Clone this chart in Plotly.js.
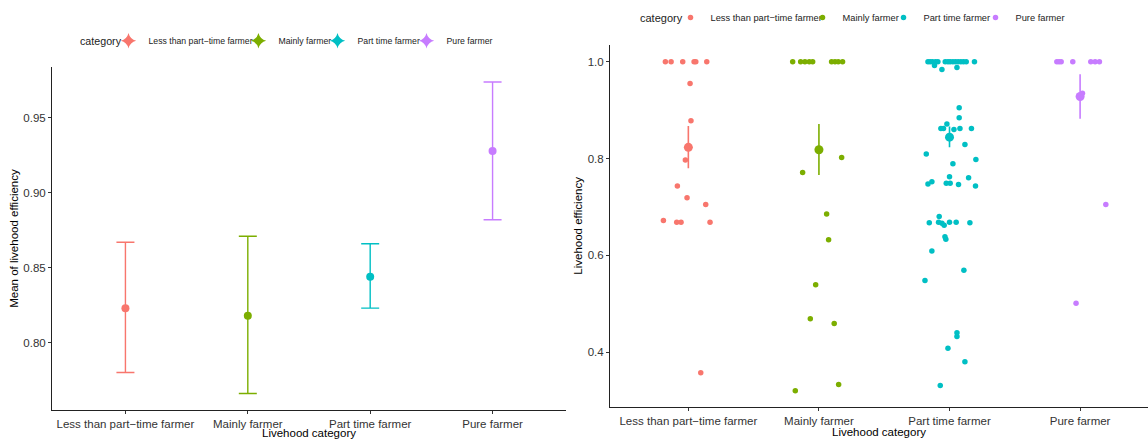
<!DOCTYPE html>
<html>
<head>
<meta charset="utf-8">
<script src="https://cdn.plot.ly/plotly-3.0.1.min.js"></script>
<style>html,body{margin:0;padding:0;background:#fff;overflow:hidden;}#chart{width:1148px;height:439px;}</style>
</head>
<body>
<div id="chart"></div>
<script>
// ---- data ----
const categories = ["Less than part\u2212time farmer", "Mainly farmer", "Part time farmer", "Pure farmer"];
const legendTitle = "category";
const meanVals  = [0.823, 0.818, 0.844, 0.928];
const lowerVals = [0.780, 0.766, 0.823, 0.882];
const upperVals = [0.867, 0.871, 0.866, 0.974];

const lessVals = [1,1,1,1,1,1,0.955,0.878,0.797,0.743,0.719,0.705,0.672,0.668,0.668,0.668,0.357];
const lessJit  = [-0.176,-0.132,-0.043,0.044,0.057,0.141,0.013,0.02,-0.023,-0.084,-0.01,0.133,-0.191,-0.089,-0.056,0.166,0.095];

const mainlyVals = [1,1,1,1,1,1,1,1,1,0.802,0.771,0.685,0.632,0.539,0.469,0.459,0.333,0.320];
const mainlyJit  = [-0.201,-0.140,-0.107,-0.074,-0.048,0.097,0.123,0.148,0.181,0.174,-0.125,0.059,0.074,-0.025,-0.066,0.117,0.151,-0.181];

const partVals = [1,1,1,1,1,1,1,1,1,1,1,1,1,1,1,0.992,0.984,0.988,
  0.905,0.884,0.871,0.862,0.862,0.860,0.862,0.862,
  0.829,0.809,0.798,0.789,0.762,0.760,
  0.747,0.752,0.749,0.749,0.746,0.743,
  0.680,0.667,0.668,0.666,0.662,0.668,0.668,0.667,
  0.638,0.633,0.609,0.569,0.548,
  0.440,0.432,0.408,0.380,0.331];
const partJit = [-0.165,-0.148,-0.130,-0.107,-0.089,-0.033,-0.012,0.005,0.026,0.046,0.066,0.087,0.107,0.128,0.191,-0.115,-0.058,0.057,
  0.074,0.074,-0.02,-0.066,-0.046,0.034,0.08,0.168,
  0.118,-0.178,0.202,0.026,0,0.146,
  -0.165,-0.135,-0.025,0.005,0.069,0.199,
  -0.079,-0.155,-0.084,-0.058,-0.041,0,0.051,0.156,
  -0.035,-0.028,-0.135,0.11,-0.188,
  0.057,0.057,-0.012,0.118,-0.071];

const pureVals = [1,1,1,1,1,1,1,0.935,0.705,0.501];
const pureJit  = [-0.178,-0.161,-0.145,-0.056,0.082,0.115,0.148,0.018,0.197,-0.031];

const leftTickVals = [0.80, 0.85, 0.90, 0.95];
const rightTickVals = [0.4, 0.6, 0.8, 1.0];

// ---- styling ----
const W = 1148, H = 439;
const colors = ["#F8766D", "#7CAE00", "#00BFC4", "#C77CFF"];
const pointVals = [lessVals, mainlyVals, partVals, pureVals];
const pointJit = [lessJit, mainlyJit, partJit, pureJit];
const catIdx = [0, 1, 2, 3];
const FONT = "Liberation Sans, Arial, sans-serif";
// legend layout (pixel position of each entry's text start)
const leftLegendNames = ["legend", "legend3", "legend4", "legend5"];
const rightLegendNames = ["legend2", "legend6", "legend7", "legend8"];
const leftLegendTextX = [145, 275, 354, 443];
const rightLegendTextX = [707, 839, 920, 1012];
const leftLegendY = 40.7, rightLegendY = 17.5;

const traces = [];
// left panel: mean with error bars
catIdx.forEach(i => {
  traces.push({
    type: "scatter", mode: "markers",
    x: [i], y: [meanVals[i]],
    name: categories[i], showlegend: false,
    xaxis: "x", yaxis: "y",
    marker: {color: colors[i], size: 8},
    error_y: {type: "data", symmetric: false,
      array: [upperVals[i] - meanVals[i]], arrayminus: [meanVals[i] - lowerVals[i]],
      color: colors[i], thickness: 1.4, width: 9}
  });
  // legend key for the left panel (errorbar + point look)
  traces.push({
    type: "scatter", mode: "markers",
    x: [null], y: [null],
    name: categories[i], legend: leftLegendNames[i],
    xaxis: "x", yaxis: "y",
    marker: {color: colors[i], size: 11, symbol: "star-diamond"}
  });
});
// right panel: jittered points
catIdx.forEach(i => {
  traces.push({
    type: "scatter", mode: "markers",
    x: pointJit[i].map(j => i + j), y: pointVals[i],
    name: categories[i],
    legend: rightLegendNames[i],
    xaxis: "x2", yaxis: "y2",
    marker: {color: colors[i], size: 5.5}
  });
});
// right panel: mean pointrange
catIdx.forEach(i => {
  traces.push({
    type: "scatter", mode: "markers",
    x: [i], y: [meanVals[i]],
    showlegend: false,
    xaxis: "x2", yaxis: "y2",
    marker: {color: colors[i], size: 9},
    error_y: {type: "data", symmetric: false,
      array: [upperVals[i] - meanVals[i]], arrayminus: [meanVals[i] - lowerVals[i]],
      color: colors[i], thickness: 1.6, width: 0}
  });
});

const axisCommon = {
  showgrid: false, zeroline: false, showline: true, linecolor: "#222", linewidth: 1,
  ticks: "outside", ticklen: 3, tickcolor: "#333", tickwidth: 1,
  tickfont: {family: FONT, size: 11.5, color: "#333"},
  automargin: false
};

function makeLegend(textX, yPx, size) {
  return {
    orientation: "h", xref: "container", yref: "container",
    x: (textX - 36.5) / W, xanchor: "left", y: 1 - yPx / H, yanchor: "middle",
    font: {family: FONT, size: size, color: "#222"}, itemwidth: 30,
    bgcolor: "rgba(0,0,0,0)", borderwidth: 0
  };
}

const layout = {
  width: W, height: H,
  paper_bgcolor: "#fff", plot_bgcolor: "#fff",
  margin: {l: 0, r: 0, t: 0, b: 0, autoexpand: false},
  font: {family: FONT, color: "#000"},
  showlegend: true,
  xaxis: Object.assign({}, axisCommon, {
    domain: [52/W, 566/W], range: [-0.6, 3.6],
    tickmode: "array", tickvals: catIdx, ticktext: categories,
    title: {text: "Livehood category", font: {family: FONT, size: 11.5}, standoff: 2},
    anchor: "y"
  }),
  yaxis: Object.assign({}, axisCommon, {
    domain: [1 - 410/H, 1 - 67/H], range: [0.755, 0.984],
    tickmode: "array", tickvals: leftTickVals, ticktext: leftTickVals.map(v => v.toFixed(2)),
    title: {text: "Mean of livehood efficiency", font: {family: FONT, size: 11.5}, standoff: 2},
    anchor: "x"
  }),
  xaxis2: Object.assign({}, axisCommon, {
    domain: [610/W, 1], range: [-0.6, 3.52],
    tickmode: "array", tickvals: catIdx, ticktext: categories,
    title: {text: "Livehood category", font: {family: FONT, size: 11.5}, standoff: 2},
    anchor: "y2"
  }),
  yaxis2: Object.assign({}, axisCommon, {
    domain: [1 - 406.7/H, 1 - 45/H], range: [0.287, 1.0345],
    tickmode: "array", tickvals: rightTickVals, ticktext: rightTickVals.map(v => v.toFixed(1)),
    title: {text: "Livehood efficiency", font: {family: FONT, size: 11.5}, standoff: 2},
    anchor: "x2"
  }),
  annotations: [
    {text: legendTitle, xref: "paper", yref: "paper", x: 77.5/W, y: 1 - leftLegendY/H,
     xanchor: "left", yanchor: "middle", showarrow: false,
     font: {family: FONT, size: 10.7, color: "#222"}},
    {text: legendTitle, xref: "paper", yref: "paper", x: 638/W, y: 1 - rightLegendY/H,
     xanchor: "left", yanchor: "middle", showarrow: false,
     font: {family: FONT, size: 11, color: "#222"}}
  ]
};
catIdx.forEach(i => {
  layout[leftLegendNames[i]] = makeLegend(leftLegendTextX[i], leftLegendY, 8.7);
  layout[rightLegendNames[i]] = makeLegend(rightLegendTextX[i], rightLegendY, 9.3);
});

Plotly.newPlot("chart", traces, layout, {displayModeBar: false, staticPlot: true});
</script>
</body>
</html>
